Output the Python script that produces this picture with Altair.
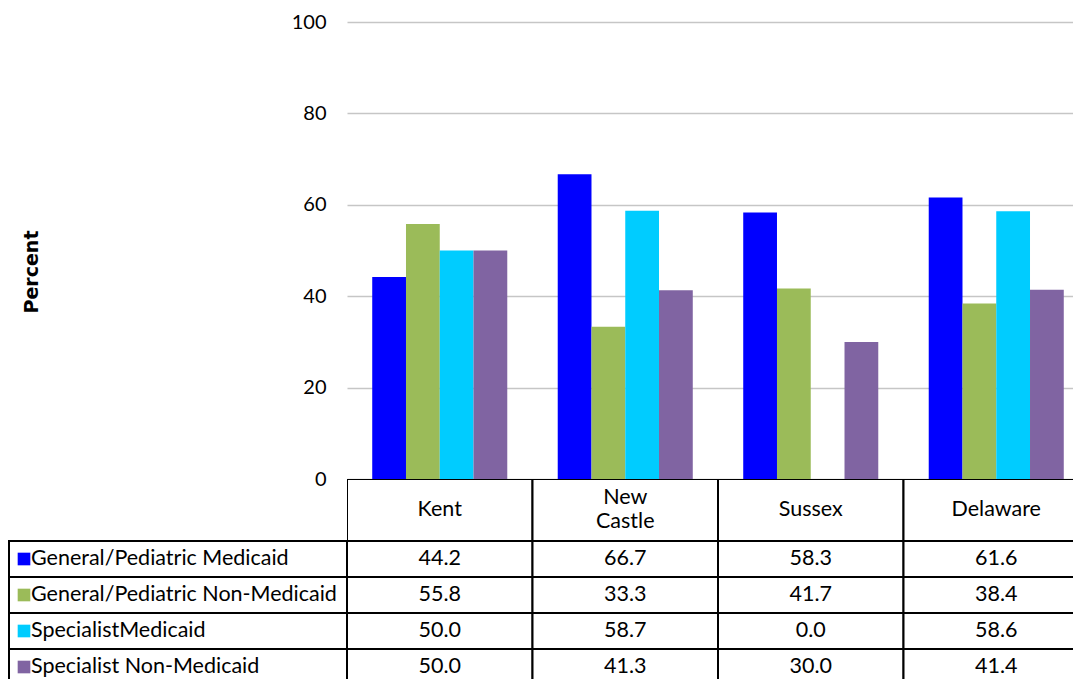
import altair as alt
import pandas as pd

# ---------------- data ----------------
counties = ["Kent", "New Castle", "Sussex", "Delaware"]
header_labels = ["Kent", "New\nCastle", "Sussex", "Delaware"]
series = [
    "General/Pediatric Medicaid",
    "General/Pediatric Non-Medicaid",
    "SpecialistMedicaid",
    "Specialist Non-Medicaid",
]
colors = ["#0000FF", "#9BBB59", "#00CCFF", "#8064A2"]
gp_medicaid = [44.2, 66.7, 58.3, 61.6]
gp_non_medicaid = [55.8, 33.3, 41.7, 38.4]
spec_medicaid = [50.0, 58.7, 0.0, 58.6]
spec_non_medicaid = [50.0, 41.3, 30.0, 41.4]
y_ticks = [0, 20, 40, 60, 80, 100]
y_title = "Percent"

# ---------------- layout ----------------
LEFT_W = 338      # legend column of the data table
VIS_W = 726       # visible part of the plot / table (page is cut at the right)
FULL_W = 742      # full width of the four table columns
PLOT_H = 457
HEAD_H = 62
ROW_H = 36
FONT = "Lato"
TICK_FS = 20
TAB_FS = 21.5

values = [gp_medicaid, gp_non_medicaid, spec_medicaid, spec_non_medicaid]
rows = []
for s, vals in zip(series, values):
    for c, v in zip(counties, vals):
        rows.append({"county": c, "series": s, "value": v})
df = pd.DataFrame(rows)
df_head = pd.DataFrame(
    {
        "county": counties,
        "label": header_labels,
        "multi": [("\n" in h) for h in header_labels],
    }
)
df_leg = pd.DataFrame({"series": series, "col": ["a"] * len(series)})

color_scale = alt.Scale(domain=series, range=colors)


def blank(w, h):
    return (
        alt.Chart(pd.DataFrame({"v": [0]}))
        .mark_point(opacity=0)
        .encode(x=alt.value(w / 2), y=alt.value(h / 2))
        .properties(width=w, height=h)
    )


# bar chart
bars = (
    alt.Chart(df)
    .mark_bar(clip=True)
    .encode(
        x=alt.X(
            "county:N",
            sort=counties,
            axis=None,
            scale=alt.Scale(paddingInner=0.272, paddingOuter=0.136, range=[0, FULL_W]),
        ),
        xOffset=alt.XOffset(
            "series:N", sort=series, scale=alt.Scale(paddingInner=0, paddingOuter=0)
        ),
        y=alt.Y(
            "value:Q",
            scale=alt.Scale(domain=[0, 100], nice=False),
            axis=alt.Axis(
                values=y_ticks,
                title=y_title,
                titleFont="DejaVu Sans",
                titleFontWeight="bold",
                titleFontSize=19,
                titleColor="black",
                titleX=-316,
                titleY=249.5,
                titleBaseline="middle",
                titleAlign="center",
                labelFont=FONT,
                labelFontSize=TICK_FS,
                labelColor="black",
                labelPadding=21,
                ticks=False,
                tickSize=0,
                domain=False,
                gridColor="#c6c6c6",
                gridWidth=1.3,
            ),
        ),
        color=alt.Color("series:N", scale=color_scale, legend=None),
    )
    .properties(width=VIS_W, height=PLOT_H)
)

# header row
head_x = alt.X(
    "county:N",
    sort=counties,
    axis=None,
    scale=alt.Scale(paddingInner=0, paddingOuter=0, range=[0, FULL_W]),
)
head_base = alt.Chart(df_head)
header = alt.layer(
    head_base.mark_rect(fill="white", stroke="black", strokeWidth=2, clip=True).encode(
        x=head_x
    ),
    head_base.mark_text(
        font=FONT, fontSize=TAB_FS, color="black", baseline="middle", clip=True
    )
    .encode(x=head_x, text="label:N")
    .transform_filter("!datum.multi"),
    head_base.mark_text(
        font=FONT,
        fontSize=TAB_FS,
        color="black",
        baseline="middle",
        lineBreak="\n",
        lineHeight=24,
        dy=-12,
        clip=True,
    )
    .encode(x=head_x, text="label:N")
    .transform_filter("datum.multi"),
).properties(width=VIS_W, height=HEAD_H)

# legend column
leg_y = alt.Y(
    "series:N", sort=series, axis=None, scale=alt.Scale(paddingInner=0, paddingOuter=0)
)
leg_base = alt.Chart(df_leg)
legend_col = alt.layer(
    leg_base.mark_rect(fill="white", stroke="black", strokeWidth=2).encode(
        x=alt.X("col:N", axis=None, scale=alt.Scale(paddingInner=0, paddingOuter=0)),
        y=leg_y,
    ),
    leg_base.mark_square(size=160, opacity=1).encode(
        x=alt.value(15),
        y=leg_y,
        color=alt.Color("series:N", scale=color_scale, legend=None),
    ),
    leg_base.mark_text(
        font=FONT, fontSize=TAB_FS, color="black", align="left", baseline="middle"
    ).encode(x=alt.value(22), y=leg_y, text="series:N"),
).properties(width=LEFT_W, height=ROW_H * len(series))

# values table
tab_base = alt.Chart(df)
table = alt.layer(
    tab_base.mark_rect(fill="white", stroke="black", strokeWidth=2, clip=True).encode(
        x=head_x, y=leg_y
    ),
    tab_base.mark_text(
        font=FONT, fontSize=TAB_FS, color="black", baseline="middle", clip=True
    ).encode(x=head_x, y=leg_y, text=alt.Text("value:Q", format=".1f")),
).properties(width=VIS_W, height=ROW_H * len(series))

chart = (
    alt.concat(
        blank(LEFT_W, PLOT_H),
        bars,
        blank(LEFT_W, HEAD_H),
        header,
        legend_col,
        table,
        columns=2,
        spacing=0,
        bounds="flush",
    )
    .properties(
        padding={"left": 0, "top": 4, "right": 0, "bottom": 0}, background="white"
    )
    .configure_view(strokeWidth=0)
)

chart.save("out.html", embed_options={"renderer": "svg", "actions": False})
